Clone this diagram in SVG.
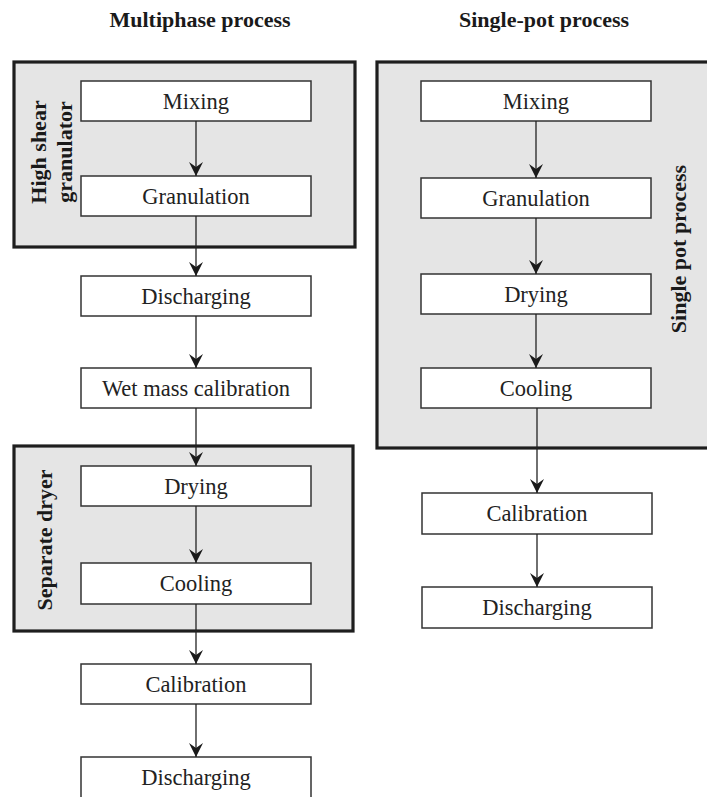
<svg xmlns="http://www.w3.org/2000/svg" width="707" height="797" viewBox="0 0 707 797">
<style>
.grp{fill:#e5e5e5;stroke:#1e1e1e;stroke-width:3.2}
.box{fill:#ffffff;stroke:#333333;stroke-width:1.5}
.lbl{font-size:22.5px;fill:#222;text-anchor:middle}
.ttl{font-size:22px;font-weight:bold;fill:#1a1a1a;text-anchor:middle}
.edge{stroke:#222;stroke-width:1.3;fill:none;marker-end:url(#ah)}
</style>
<defs>
<marker id="ah" markerUnits="userSpaceOnUse" markerWidth="16" markerHeight="16" viewBox="-15 -8 16 16" refX="0" refY="0" orient="auto">
<path d="M0,0 L-14,-7 L-9,0 L-14,7 Z" fill="#1a1a1a"/>
</marker>
</defs>
<rect width="707" height="797" fill="#ffffff"/>
<g font-family="'Liberation Serif', 'Times New Roman', serif">
<text class="ttl" x="200" y="27">Multiphase process</text>
<text class="ttl" x="544" y="27">Single-pot process</text>

<g id="grp-high-shear">
<rect class="grp" x="14" y="62" width="341" height="185"/>
<text class="ttl" transform="translate(46,152) rotate(-90)" x="0" y="0">High shear</text>
<text class="ttl" transform="translate(72,152) rotate(-90)" x="0" y="0">granulator</text>
</g>
<g id="grp-separate-dryer">
<rect class="grp" x="14" y="446" width="339" height="185"/>
<text class="ttl" transform="translate(52,540) rotate(-90)" x="0" y="0">Separate dryer</text>
</g>
<g id="grp-single-pot">
<rect class="grp" x="377" y="62" width="335" height="386"/>
<text class="ttl" transform="translate(686,249) rotate(-90)" x="0" y="0">Single pot process</text>
</g>

<g id="L-mixing"><rect class="box" x="81" y="81" width="230" height="40"/><text class="lbl" x="196" y="109">Mixing</text></g>
<g id="L-granulation"><rect class="box" x="81" y="176" width="230" height="40"/><text class="lbl" x="196" y="204">Granulation</text></g>
<g id="L-discharging1"><rect class="box" x="81" y="276" width="230" height="40"/><text class="lbl" x="196" y="304">Discharging</text></g>
<g id="L-wetmass"><rect class="box" x="81" y="368" width="230" height="40"/><text class="lbl" x="196" y="396">Wet mass calibration</text></g>
<g id="L-drying"><rect class="box" x="81" y="466" width="230" height="40"/><text class="lbl" x="196" y="494">Drying</text></g>
<g id="L-cooling"><rect class="box" x="81" y="563" width="230" height="41"/><text class="lbl" x="196" y="591">Cooling</text></g>
<g id="L-calibration"><rect class="box" x="81" y="664" width="230" height="40"/><text class="lbl" x="196" y="692">Calibration</text></g>
<g id="L-discharging2"><rect class="box" x="81" y="757" width="230" height="42"/><text class="lbl" x="196" y="785">Discharging</text></g>

<g id="R-mixing"><rect class="box" x="421" y="81" width="230" height="40"/><text class="lbl" x="536" y="109">Mixing</text></g>
<g id="R-granulation"><rect class="box" x="421" y="178" width="230" height="40"/><text class="lbl" x="536" y="206">Granulation</text></g>
<g id="R-drying"><rect class="box" x="421" y="274" width="230" height="40"/><text class="lbl" x="536" y="302">Drying</text></g>
<g id="R-cooling"><rect class="box" x="421" y="368" width="230" height="40"/><text class="lbl" x="536" y="396">Cooling</text></g>
<g id="R-calibration"><rect class="box" x="422" y="493" width="230" height="41"/><text class="lbl" x="537" y="521">Calibration</text></g>
<g id="R-discharging"><rect class="box" x="422" y="587" width="230" height="41"/><text class="lbl" x="537" y="615">Discharging</text></g>
</g>

<g id="connectors">
<line class="edge" x1="196" y1="121" x2="196" y2="176"/>
<line class="edge" x1="196" y1="216" x2="196" y2="276"/>
<line class="edge" x1="196" y1="316" x2="196" y2="368"/>
<line class="edge" x1="196" y1="408" x2="196" y2="466"/>
<line class="edge" x1="196" y1="506" x2="196" y2="563"/>
<line class="edge" x1="196" y1="604" x2="196" y2="664"/>
<line class="edge" x1="196" y1="704" x2="196" y2="757"/>
<line class="edge" x1="536" y1="121" x2="536" y2="178"/>
<line class="edge" x1="536" y1="218" x2="536" y2="274"/>
<line class="edge" x1="536" y1="314" x2="536" y2="368"/>
<line class="edge" x1="537" y1="408" x2="537" y2="493"/>
<line class="edge" x1="537" y1="534" x2="537" y2="587"/>
</g>
</svg>
